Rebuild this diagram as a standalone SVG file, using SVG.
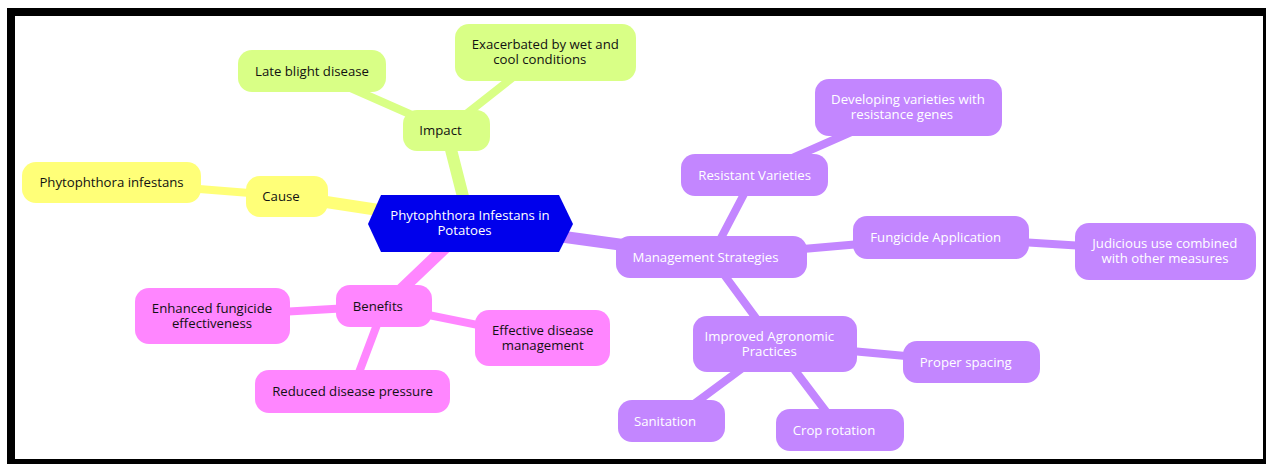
<svg xmlns="http://www.w3.org/2000/svg" width="1266" height="464" viewBox="0 0 1266 464">
<style>
text{font-family:"Open Sans","Noto Sans","Liberation Sans",sans-serif;font-size:13.2px;text-anchor:middle}
.dk{fill:#111}
.lt{fill:#ffffff}
.e1{stroke-width:12;stroke-linecap:round;fill:none}
.e2{stroke-width:8;stroke-linecap:round;fill:none}
.y{fill:#ffff78}.ys{stroke:#ffff78}
.g{fill:#d9ff86}.gs{stroke:#d9ff86}
.p{fill:#c386ff}.ps{stroke:#c386ff}
.k{fill:#ff86ff}.ks{stroke:#ff86ff}
</style>
<rect x="0" y="0" width="1266" height="464" fill="#ffffff"/>
<rect x="11" y="12" width="1256" height="451" fill="none" stroke="#000" stroke-width="8"/>
<g id="connectors">
<line class="e1 ys" x1="470" y1="224" x2="287" y2="196"/>
<line class="e2 ys" x1="287" y1="196" x2="111" y2="182"/>
<line class="e1 gs" x1="470" y1="224" x2="446" y2="130"/>
<line class="e2 gs" x1="446" y1="130" x2="312" y2="71"/>
<line class="e2 gs" x1="446" y1="130" x2="545" y2="52"/>
<line class="e1 ps" x1="470" y1="224" x2="711" y2="257"/>
<line class="e2 ps" x1="711" y1="257" x2="754" y2="175"/>
<line class="e2 ps" x1="754" y1="175" x2="908" y2="107"/>
<line class="e2 ps" x1="711" y1="257" x2="941" y2="237"/>
<line class="e2 ps" x1="941" y1="237" x2="1165" y2="251"/>
<line class="e2 ps" x1="711" y1="257" x2="775" y2="344"/>
<line class="e2 ps" x1="775" y1="344" x2="971" y2="362"/>
<line class="e2 ps" x1="775" y1="344" x2="671" y2="421"/>
<line class="e2 ps" x1="775" y1="344" x2="840" y2="430"/>
<line class="e1 ks" x1="470" y1="224" x2="384" y2="306"/>
<line class="e2 ks" x1="384" y1="306" x2="212" y2="316"/>
<line class="e2 ks" x1="384" y1="306" x2="352" y2="391"/>
<line class="e2 ks" x1="384" y1="306" x2="542" y2="338"/>
</g>
<g id="root">
<polygon points="368,224 381,195 559,195 573,224 559,252 381,252" fill="#0000ec"/>
<text class="lt"><tspan x="470" y="220">Phytophthora Infestans in</tspan><tspan x="464.5" y="235">Potatoes</tspan></text>
</g>
<g id="cause">
<rect class="y" x="246" y="176" width="82" height="41" rx="14"/>
<text class="dk" x="281" y="201">Cause</text>
</g>
<g id="phytophthora-infestans">
<rect class="y" x="22" y="162" width="179" height="41" rx="14"/>
<text class="dk" x="111.5" y="187">Phytophthora infestans</text>
</g>
<g id="impact">
<rect class="g" x="403" y="110" width="87" height="41" rx="14"/>
<text class="dk" x="440.5" y="135">Impact</text>
</g>
<g id="late-blight">
<rect class="g" x="238" y="50" width="148" height="42" rx="14"/>
<text class="dk" x="312" y="75.5">Late blight disease</text>
</g>
<g id="exacerbated">
<rect class="g" x="455" y="24" width="181" height="57" rx="14"/>
<text class="dk"><tspan x="545.3" y="49">Exacerbated by wet and</tspan><tspan x="539.8" y="64">cool conditions</tspan></text>
</g>
<g id="management">
<rect class="p" x="616" y="236" width="191" height="42" rx="14"/>
<text class="lt" x="705.5" y="261.5">Management Strategies</text>
</g>
<g id="resistant-varieties">
<rect class="p" x="681" y="154" width="147" height="42" rx="14"/>
<text class="lt" x="754.7" y="179.5">Resistant Varieties</text>
</g>
<g id="developing-varieties">
<rect class="p" x="815" y="79" width="187" height="57" rx="14"/>
<text class="lt"><tspan x="908" y="104">Developing varieties with</tspan><tspan x="902" y="119">resistance genes</tspan></text>
</g>
<g id="fungicide-application">
<rect class="p" x="853" y="216" width="176" height="43" rx="14"/>
<text class="lt" x="935.7" y="241.5">Fungicide Application</text>
</g>
<g id="judicious-use">
<rect class="p" x="1075" y="223" width="181" height="57" rx="14"/>
<text class="lt"><tspan x="1164.8" y="248">Judicious use combined</tspan><tspan x="1165" y="263">with other measures</tspan></text>
</g>
<g id="improved-agronomic">
<rect class="p" x="693" y="316" width="164" height="56" rx="14"/>
<text class="lt"><tspan x="769.3" y="340.5">Improved Agronomic</tspan><tspan x="769.3" y="355.5">Practices</tspan></text>
</g>
<g id="proper-spacing">
<rect class="p" x="903" y="341" width="137" height="42" rx="14"/>
<text class="lt" x="965.7" y="366.5">Proper spacing</text>
</g>
<g id="sanitation">
<rect class="p" x="618" y="400" width="107" height="42" rx="14"/>
<text class="lt" x="665" y="425.5">Sanitation</text>
</g>
<g id="crop-rotation">
<rect class="p" x="776" y="409" width="128" height="42" rx="14"/>
<text class="lt" x="834" y="434.5">Crop rotation</text>
</g>
<g id="benefits">
<rect class="k" x="336" y="285" width="96" height="42" rx="14"/>
<text class="dk" x="377.8" y="310.5">Benefits</text>
</g>
<g id="enhanced-fungicide">
<rect class="k" x="135" y="288" width="155" height="56" rx="14"/>
<text class="dk"><tspan x="212" y="312.5">Enhanced fungicide</tspan><tspan x="212" y="327.5">effectiveness</tspan></text>
</g>
<g id="reduced-disease">
<rect class="k" x="255" y="370" width="195" height="43" rx="14"/>
<text class="dk" x="352.6" y="395.5">Reduced disease pressure</text>
</g>
<g id="effective-management">
<rect class="k" x="475" y="310" width="135" height="56" rx="14"/>
<text class="dk"><tspan x="542.7" y="334.5">Effective disease</tspan><tspan x="542.7" y="349.5">management</tspan></text>
</g>
</svg>
